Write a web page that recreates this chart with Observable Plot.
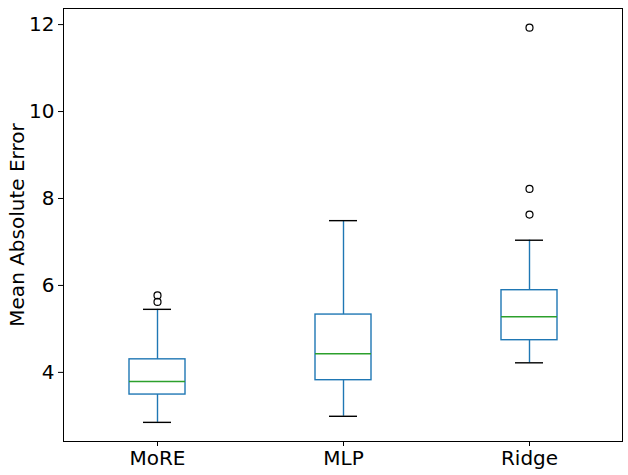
<!DOCTYPE html>
<html>
<head>
<meta charset="utf-8">
<script src="https://cdn.jsdelivr.net/npm/d3@7"></script>
<script src="https://cdn.jsdelivr.net/npm/@observablehq/plot@0.6"></script>
<style>
  html, body { margin: 0; padding: 0; background: white; }
</style>
</head>
<body>
<div id="chart"></div>
<script>
const models = ["MoRE", "MLP", "Ridge"];
const low    = [2.85, 2.99, 4.22];
const q1     = [3.49, 3.82, 4.74];
const median = [3.79, 4.43, 5.28];
const q3     = [4.30, 5.33, 5.89];
const high   = [5.45, 7.49, 7.04];
const outlierModel = ["MoRE", "MoRE", "Ridge", "Ridge", "Ridge"];
const outlierValue = [5.62, 5.77, 7.63, 8.22, 11.93];
const yTicks = [4, 6, 8, 10, 12];

const boxes = models.map((m, i) => ({model: m, low: low[i], q1: q1[i], median: median[i], q3: q3[i], high: high[i]}));
const outliers = outlierModel.map((m, i) => ({model: m, value: outlierValue[i]}));

const blue = "#1f77b4";
const green = "#2ca02c";

const chart = Plot.plot({
  width: 628,
  height: 475,
  marginLeft: 63,
  marginRight: 6,
  marginTop: 8,
  marginBottom: 34,
  style: {background: "white", fontFamily: "DejaVu Sans", fontSize: "20px", color: "black"},
  x: {type: "band", domain: models, padding: 0},
  y: {domain: [2.41, 12.37]},
  marks: [
    Plot.ruleX(boxes, {x: "model", y1: "q3", y2: "high", stroke: blue, strokeWidth: 1.4}),
    Plot.ruleX(boxes, {x: "model", y1: "low", y2: "q1", stroke: blue, strokeWidth: 1.4}),
    Plot.tickY(boxes, {x: "model", y: "high", stroke: "black", strokeWidth: 1.4, inset: 79}),
    Plot.tickY(boxes, {x: "model", y: "low", stroke: "black", strokeWidth: 1.4, inset: 79}),
    Plot.barY(boxes, {x: "model", y1: "q1", y2: "q3", fill: "none", stroke: blue, strokeWidth: 1.4, insetLeft: 65, insetRight: 65}),
    Plot.tickY(boxes, {x: "model", y: "median", stroke: green, strokeWidth: 1.4, inset: 65}),
    Plot.dot(outliers, {x: "model", y: "value", r: 3.5, stroke: "black", fill: "none", strokeWidth: 1.2}),
    Plot.frame({stroke: "black", strokeWidth: 1}),
    Plot.axisY({ticks: yTicks, tickSize: 5, tickPadding: 4, fontSize: 20, label: "Mean Absolute Error", labelAnchor: "center", labelArrow: "none", labelOffset: 54}),
    Plot.axisX({tickSize: 5, tickPadding: 4, fontSize: 20, label: null})
  ]
});
document.getElementById("chart").appendChild(chart);
</script>
</body>
</html>
